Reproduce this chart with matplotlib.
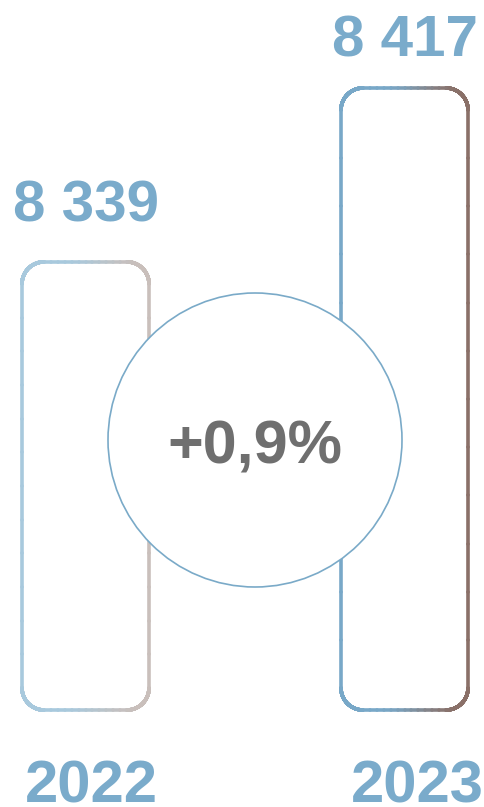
import numpy as np
import matplotlib.pyplot as plt
from matplotlib.collections import LineCollection
from matplotlib.colors import to_rgb
from matplotlib.patches import Ellipse

# data
years = ["2022", "2023"]
values = [8339, 8417]
value_labels = ["8 339", "8 417"]
change_label = "+0,9%"

base = 8138  # bars are not zero-based in the original
blue = "#7aabcb"
grey = "#6f6f6f"
edge_from = ["#a8c9dd", "#78a8c8"]
edge_to = ["#c9bfbb", "#8a7068"]

W, H = 485, 807
fig = plt.figure(figsize=(W / 100, H / 100), dpi=100)
ax = fig.add_axes([0, 0, 1, 1])
ax.axis("off")

px_x = 319.0            # pixels per x unit
px_y = 622.0 / (values[1] - base)  # pixels per value unit
ax.set_xlim(-85.5 / px_x, 1 + (W - 404.5) / px_x)
ax.set_ylim(base - 97 / px_y, values[1] + 88 / px_y)

bar_w = 127 / px_x
r = 22  # corner radius in px


def rounded_rect(x0, y0, w, h, n=40):
    rx, ry = r / px_x, r / px_y
    pts = []
    corners = [(x0 + w - rx, y0 + h - ry, 0), (x0 + rx, y0 + h - ry, 90),
               (x0 + rx, y0 + ry, 180), (x0 + w - rx, y0 + ry, 270)]
    for cx, cy, a0 in corners:
        for a in np.linspace(a0, a0 + 90, n):
            t = np.radians(a)
            pts.append((cx + rx * np.cos(t), cy + ry * np.sin(t)))
    pts.append(pts[0])
    # densify straight edges
    out = []
    for p, q in zip(pts[:-1], pts[1:]):
        for s in np.linspace(0, 1, 12, endpoint=False):
            out.append((p[0] + (q[0] - p[0]) * s, p[1] + (q[1] - p[1]) * s))
    out.append(pts[-1])
    return np.array(out)


for i, v in enumerate(values):
    x0 = i - bar_w / 2
    pts = rounded_rect(x0, base, bar_w, v - base)
    segs = np.stack([pts[:-1], pts[1:]], axis=1)
    mx = (segs[:, 0, 0] + segs[:, 1, 0]) / 2
    t = np.clip(((mx - x0) / bar_w - 0.3) / 0.65, 0, 1)
    t = t * t * (3 - 2 * t)
    c0, c1 = np.array(to_rgb(edge_from[i])), np.array(to_rgb(edge_to[i]))
    cols = c0 + (c1 - c0) * t[:, None]
    lc = LineCollection(segs, colors=cols, linewidths=2.6, capstyle="round", zorder=2)
    ax.add_collection(lc)

    offs = [40, 31][i]
    ax.annotate(value_labels[i], (i, v), xytext=(0, offs * 0.72), textcoords="offset points",
                ha="center", va="baseline", fontsize=42, fontweight="bold",
                color=blue, family="Liberation Sans")

    ax.annotate(years[i], (i, base), xytext=([5.5, 12.5][i] * 0.72, -93 * 0.72),
                textcoords="offset points", ha="center", va="baseline", fontsize=43,
                fontweight="bold", color=blue, family="Liberation Sans")

# change circle between the bars
cx = (255 - 85.5) / px_x
cy = base + (710 - 440) / px_y
rad = 147
ax.add_patch(Ellipse((cx, cy), 2 * rad / px_x, 2 * rad / px_y, facecolor="white",
                     edgecolor="#7aaac8", linewidth=1.2, zorder=3))
ax.text(cx, base + (710 - 464) / px_y, change_label, ha="center", va="baseline",
        fontsize=44, fontweight="bold", color=grey, family="Liberation Sans", zorder=4)

fig.savefig("out.png", dpi=100, facecolor="white")
